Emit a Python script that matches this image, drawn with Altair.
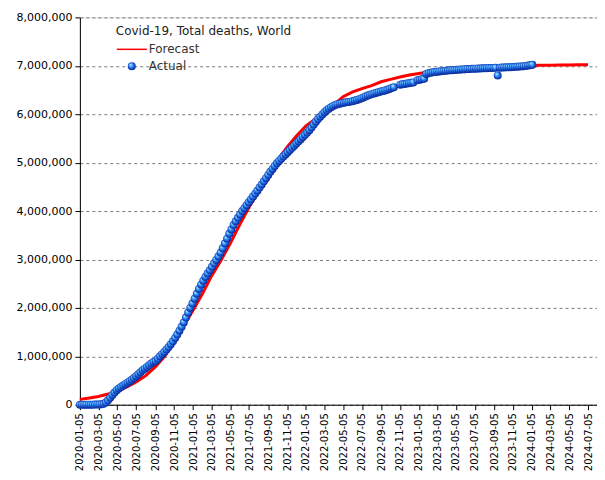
import altair as alt
import pandas as pd

# ---------------- data ----------------
actual_start = "2020-01-05"  # weekly readings (Sundays); None = no report that week
actual_values = [
    # 2020
    0, 0, 0, 0,
    300, 800, 1700, 2400,
    3000, 4000, 8000, 20000, 45000,
    90000, 145000, 200000, 250000,
    300000, 335000, 365000, 395000, 425000,
    455000, 485000, 515000, 550000,
    590000, 630000, 670000, 710000,
    745000, 780000, 815000, 850000, 880000,
    905000, 950000, 1000000, 1045000,
    1090000, 1140000, 1190000, 1250000,
    1310000, 1380000, 1450000, 1530000, 1610000,
    1700000, 1800000, 1900000, 2000000,
    # 2021
    2090000, 2190000, 2290000, 2390000, 2480000,
    2560000, 2640000, 2710000, 2780000,
    2850000, 2920000, 2990000, 3060000,
    3140000, 3230000, 3330000, 3430000,
    3530000, 3620000, 3710000, 3790000, 3860000,
    3930000, 4000000, 4060000, 4120000,
    4180000, 4240000, 4300000, 4360000,
    4420000, 4485000, 4550000, 4615000, 4680000,
    4745000, 4810000, 4870000, 4930000,
    4985000, 5035000, 5080000, 5125000, 5170000,
    5215000, 5260000, 5305000, 5350000,
    5395000, 5440000, 5485000, 5530000,
    # 2022
    5575000, 5620000, 5670000, 5725000, 5785000,
    5845000, 5900000, 5950000, 5995000,
    6040000, 6080000, 6115000, 6145000,
    6170000, 6190000, 6205000, 6218000,
    6228000, 6237000, 6245000, 6252000, 6260000,
    6270000, 6282000, 6295000, 6310000,
    6327000, 6345000, 6365000, 6385000, 6400000,
    6415000, 6430000, 6443000, 6456000,
    6468000, 6480000, 6492000, 6503000,
    6520000, 6540000, 6555000, None, None,
    6610000, 6618000, 6625000, 6632000,
    6640000, 6648000, 6655000, None,
    # 2023
    6700000, 6712000, 6722000, 6732000, 6830000,
    6845000, 6856000, 6865000, 6872000,
    6878000, 6884000, 6889000, 6894000,
    6898000, 6902000, 6906000, 6910000, 6913000,
    6917000, 6920000, 6923000, 6926000,
    6929000, 6932000, 6935000, 6937000,
    6939000, 6941000, 6943000, 6945000, 6947000,
    6949000, 6951000, 6953000, 6955000,
    6957000, 6959000, 6800000, 6962000,
    6964000, 6966000, 6968000, 6970000, 6972000,
    6975000, 6978000, 6981000, 6984000,
    6988000, 6993000, 6998000, 7004000, 7010000,
    # 2024
    7020000,
]

forecast_values = [  # monthly, the 5th of each month from 2020-01
    110000, 140000, 170000, 220000, 280000, 370000, 470000, 600000, 780000, 1000000, 1300000, 1620000,
    1950000, 2300000, 2650000, 2980000, 3330000, 3720000, 4080000, 4420000, 4750000, 5050000, 5320000, 5550000,
    5760000, 5900000, 6060000, 6200000, 6360000, 6460000, 6530000, 6590000, 6670000, 6720000, 6770000, 6810000,
    6840000, 6870000, 6900000, 6920000, 6940000, 6955000, 6965000, 6975000, 6985000, 6990000, 6995000, 7000000,
    7005000, 7010000, 7013000, 7016000, 7018000, 7020000, 7020000,
]

x_ticks = [
    "2020-01-05", "2020-03-05", "2020-05-05", "2020-07-05", "2020-09-05", "2020-11-05",
    "2021-01-05", "2021-03-05", "2021-05-05", "2021-07-05", "2021-09-05", "2021-11-05",
    "2022-01-05", "2022-03-05", "2022-05-05", "2022-07-05", "2022-09-05", "2022-11-05",
    "2023-01-05", "2023-03-05", "2023-05-05", "2023-07-05", "2023-09-05", "2023-11-05",
    "2024-01-05", "2024-03-05", "2024-05-05", "2024-07-05",
]
y_ticks = [0, 1000000, 2000000, 3000000, 4000000, 5000000, 6000000, 7000000, 8000000]
x_domain = ["2020-01-05", "2024-08-03"]

# ---------------- tables ----------------
actual_dates = pd.date_range(actual_start, periods=len(actual_values), freq="7D").strftime("%Y-%m-%d")
actual_df = pd.DataFrame({"date": actual_dates, "deaths": actual_values})
actual_df = actual_df.dropna()
actual_df["series"] = "Actual"

forecast_dates = [f"{2020 + i // 12}-{i % 12 + 1:02d}-05" for i in range(len(forecast_values))]
forecast_df = pd.DataFrame({"date": forecast_dates, "deaths": forecast_values, "series": "Forecast"})


def dt(s):
    y, m, d = (int(p) for p in s.split("-"))
    return alt.DateTime(year=y, month=m, date=d, utc=True)


FONT = "DejaVu Sans"

x_enc = alt.X(
    "date:T",
    scale=alt.Scale(type="utc", domain=[dt(x_domain[0]), dt(x_domain[1])], nice=False),
    axis=alt.Axis(
        values=[dt(t) for t in x_ticks],
        format="%Y-%m-%d",
        labelAngle=270,
        labelAlign="right",
        labelBaseline="middle",
        labelFont=FONT,
        labelFontSize=10,
        labelColor="black",
        labelPadding=3,
        labelOverlap=False,
        labelFlush=False,
        tickSize=5,
        tickColor="black",
        domainColor="black",
        grid=False,
        title=None,
    ),
)
y_enc = alt.Y(
    "deaths:Q",
    scale=alt.Scale(domain=[0, 8000000], nice=False),
    axis=alt.Axis(
        values=y_ticks,
        format=",d",
        labelFont=FONT,
        labelFontSize=11,
        labelColor="black",
        labelPadding=3,
        tickSize=5,
        tickColor="black",
        domainColor="black",
        grid=True,
        gridColor="#777777",
        gridDash=[3, 3],
        title=None,
    ),
)

sphere = {
    "gradient": "radial",
    "x1": 0.32, "y1": 0.28, "r1": 0.0,
    "x2": 0.5, "y2": 0.5, "r2": 0.6,
    "stops": [
        {"offset": 0.0, "color": "#e6f9ff"},
        {"offset": 0.25, "color": "#5cc2ff"},
        {"offset": 0.55, "color": "#1f6ae8"},
        {"offset": 0.85, "color": "#0a2a9a"},
        {"offset": 1.0, "color": "#000033"},
    ],
}

forecast = alt.Chart(forecast_df).mark_line(strokeWidth=3).encode(
    x=x_enc,
    y=y_enc,
    color=alt.Color(
        "series:N",
        scale=alt.Scale(domain=["Forecast"], range=["#ff0000"]),
        legend=alt.Legend(
            orient="none", legendX=36, legendY=9, padding=0,
            title="Covid-19, Total deaths, World",
            titleFont=FONT, titleFontSize=12, titleFontWeight="normal", titleColor="#222222",
            titlePadding=5,
            symbolType="M-1,0H5", symbolSize=100, symbolStrokeWidth=1.5,
            labelFont=FONT, labelFontSize=12, labelColor="#333333", labelOffset=21,
        ),
    ),
)

actual = alt.Chart(actual_df).mark_point(filled=True, fill=sphere, size=64, opacity=1, strokeWidth=0).encode(
    x=x_enc,
    y=y_enc,
    shape=alt.Shape(
        "series:N",
        scale=alt.Scale(domain=["Actual"], range=["circle"]),
        legend=alt.Legend(
            orient="none", legendX=46, legendY=43, padding=0, title=None,
            symbolSize=64,
            labelFont=FONT, labelFontSize=12, labelColor="#333333", labelOffset=11,
        ),
    ),
)

chart = (
    alt.layer(forecast, actual)
    .properties(width=518, height=388, padding={"left": 8, "top": 3, "right": 0, "bottom": 0})
    .configure_view(stroke=None)
    .configure(background="white")
)

chart.save("out.html", embed_options={"renderer": "svg", "actions": False})
